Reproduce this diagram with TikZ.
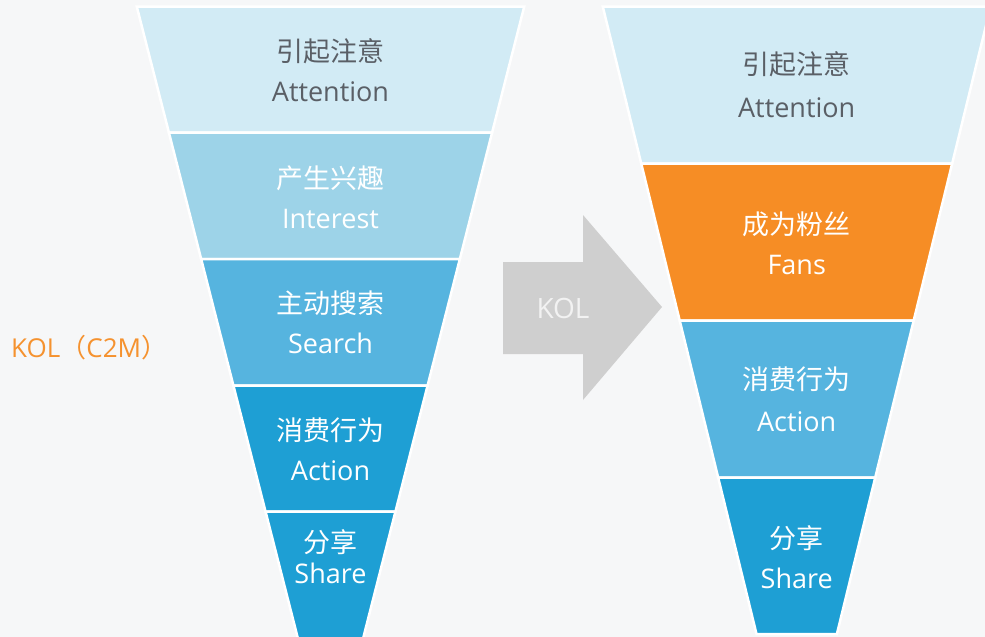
\documentclass[tikz,border=0pt]{standalone}
\usepackage{fontspec}
\setmainfont{Open Sans}
\newfontfamily\cjk{Noto Sans CJK SC}
\definecolor{bgc}{HTML}{F6F7F8}
\definecolor{bandA}{HTML}{D2EBF5}
\definecolor{bandB}{HTML}{9DD3E8}
\definecolor{bandC}{HTML}{56B4DF}
\definecolor{bandD}{HTML}{1E9FD4}
\definecolor{orangeband}{HTML}{F68D25}
\definecolor{darktext}{HTML}{5A5F66}
\definecolor{kolorange}{HTML}{F5922F}
\definecolor{arrowgrey}{HTML}{CFCFCF}
\newcommand\fband[6]{%
  \filldraw[fill=#6, draw=white, line width=2.5pt, line join=miter]
    ({#1-(#2-#3*(#4-7.5))},#4) -- ({#1+(#2-#3*(#4-7.5))},#4) --
    ({#1+(#2-#3*(#5-7.5))},#5) -- ({#1-(#2-#3*(#5-7.5))},#5) -- cycle;}
\begin{document}
\begin{tikzpicture}[x=1pt,y=-1pt,
  lab/.style={align=center, inner sep=0pt, text=white,
    font=\fontsize{27}{40}\selectfont},
  labdark/.style={lab, text=darktext}]
\useasboundingbox (0,0) rectangle (985,637);
\clip (0,0) rectangle (985,637);
\fill[bgc] (0,0) rectangle (985,637);
% left funnel
\fband{330.5}{193.5}{0.255}{6.5}{132.5}{bandA}
\fband{330.5}{193.5}{0.255}{132.5}{259}{bandB}
\fband{330.5}{193.5}{0.255}{259}{385.5}{bandC}
\fband{330.5}{193.5}{0.255}{385.5}{511.5}{bandD}
\fband{330.5}{193.5}{0.255}{511.5}{660}{bandD}
% right funnel
\fband{796.7}{193.7}{0.245}{6.5}{163.5}{bandA}
\fband{796.7}{193.7}{0.245}{163.5}{320.5}{orangeband}
\fband{796.7}{193.7}{0.245}{320.5}{477.5}{bandC}
\fband{796.7}{193.7}{0.245}{477.5}{634}{bandD}
% arrow
\fill[arrowgrey] (503,262) -- (583,262) -- (583,215) -- (662,307) -- (583,400) -- (583,354) -- (503,354) -- cycle;
\node[lab, text=white!95!black, font=\fontsize{28}{34}\selectfont] (kol) at (563,308) {KOL};
% left labels
\node[labdark] (l1) at (330.5,70) {{\cjk 引起注意}\\Attention};
\node[lab] (l2) at (330.5,197) {{\cjk 产生兴趣}\\Interest};
\node[lab] (l3) at (330.5,322) {{\cjk 主动搜索}\\Search};
\node[lab] (l4) at (330.5,449) {{\cjk 消费行为}\\Action};
\node[lab, font=\fontsize{27}{31}\selectfont] (l5) at (330.5,557) {{\cjk 分享}\\Share};
% right labels
\node[labdark, font=\fontsize{27}{43}\selectfont] (r1) at (796.7,85) {{\cjk 引起注意}\\Attention};
\node[lab] (r2) at (796.7,243) {{\cjk 成为粉丝}\\Fans};
\node[lab, font=\fontsize{27}{42}\selectfont] (r3) at (796.7,399) {{\cjk 消费行为}\\Action};
\node[lab] (r4) at (796.7,557) {{\cjk 分享}\\Share};
% side label
\node[anchor=west, inner sep=0pt, text=kolorange, font=\fontsize{26}{30}\selectfont] (c2m) at (11,348) {KOL{\cjk （}C2M{\cjk ）}};
\end{tikzpicture}
\end{document}
